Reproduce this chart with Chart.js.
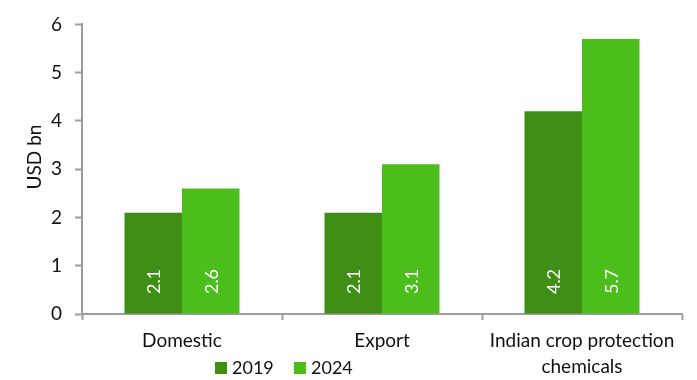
<!DOCTYPE html>
<html>
<head>
<meta charset="utf-8">
<script src="https://cdn.jsdelivr.net/npm/chart.js@4"></script>
<style>
  body { margin: 0; background: #fff; }
  canvas { display: block; }
</style>
</head>
<body>
<canvas id="myChart" width="697" height="380"></canvas>
<script>
const categories = [["Domestic"], ["Export"], ["Indian crop protection", "chemicals"]];
const seriesNames = ["2019", "2024"];
const values2019 = [2.1, 2.1, 4.2];
const values2024 = [2.6, 3.1, 5.7];
const yTicks = [0, 1, 2, 3, 4, 5, 6];
const yTitle = "USD bn";

const darkGreen = "#3f8f17";
const lightGreen = "#4cbe1c";
const axisGrey = "#9c9c9c";
const fontFamily = "Lato, 'Noto Sans', sans-serif";

// white value labels, rotated, sitting near the foot of each bar
const barLabels = {
  id: "barLabels",
  afterDatasetsDraw(chart) {
    const ctx = chart.ctx;
    ctx.save();
    ctx.fillStyle = "#ffffff";
    ctx.font = "18px " + fontFamily;
    ctx.textAlign = "center";
    ctx.textBaseline = "middle";
    chart.data.datasets.forEach((ds, i) => {
      chart.getDatasetMeta(i).data.forEach((bar, j) => {
        ctx.save();
        ctx.translate(bar.x, bar.base - 32);
        ctx.rotate(-Math.PI / 2);
        ctx.fillText(ds.data[j].toFixed(1), 0, 1);
        ctx.restore();
      });
    });
    ctx.restore();
  },
};

// legend under the Domestic / Export labels, plus the y axis title
const extras = {
  id: "extras",
  afterDraw(chart) {
    const ctx = chart.ctx;
    const xs = [215, 294];
    ctx.save();
    ctx.font = "18px " + fontFamily;
    ctx.textBaseline = "middle";
    ctx.textAlign = "left";
    chart.data.datasets.forEach((ds, i) => {
      ctx.fillStyle = ds.backgroundColor;
      ctx.fillRect(xs[i], 362, 12, 12);
      ctx.fillStyle = "#111";
      ctx.fillText(ds.label, xs[i] + 17, 368);
    });

    ctx.font = "19px " + fontFamily;
    ctx.textAlign = "center";
    ctx.translate(35, 157);
    ctx.rotate(-Math.PI / 2);
    ctx.fillText(yTitle, 0, 0);
    ctx.restore();
  },
};

const data = {
  labels: categories,
  datasets: [
    {
      label: seriesNames[0],
      data: values2019,
      backgroundColor: darkGreen,
    },
    {
      label: seriesNames[1],
      data: values2024,
      backgroundColor: lightGreen,
    },
  ],
};

const config = {
  type: "bar",
  data: data,
  options: {
    responsive: false,
    animation: false,
    layout: { padding: { top: 24, right: 15, left: 0, bottom: 0 } },
    datasets: {
      bar: { categoryPercentage: 0.575, barPercentage: 1.0 },
    },
    plugins: {
      legend: { display: false },
      tooltip: { enabled: false },
    },
    scales: {
      x: {
        grid: {
          offset: true,
          drawOnChartArea: false,
          tickLength: 6,
          tickColor: axisGrey,
          tickWidth: 2,
        },
        border: { color: axisGrey, width: 2 },
        ticks: {
          color: "#111",
          font: { family: fontFamily, size: 19, lineHeight: 1.35 },
          padding: 8,
          maxRotation: 0,
          autoSkip: false,
        },
        afterFit(scale) {
          scale.height = 66;
        },
      },
      y: {
        min: 0,
        max: 6,
        afterBuildTicks(scale) {
          scale.ticks = yTicks.map((v) => ({ value: v }));
        },
        grid: {
          drawOnChartArea: false,
          tickLength: 7,
          tickColor: axisGrey,
          tickWidth: 2,
        },
        border: { color: axisGrey, width: 2 },
        ticks: {
          color: "#111",
          font: { family: fontFamily, size: 19 },
          padding: 13,
        },
        afterFit(scale) {
          scale.width = 82;
        },
      },
    },
  },
  plugins: [barLabels, extras],
};

const myChart = new Chart(document.getElementById("myChart"), config);
</script>
</body>
</html>
